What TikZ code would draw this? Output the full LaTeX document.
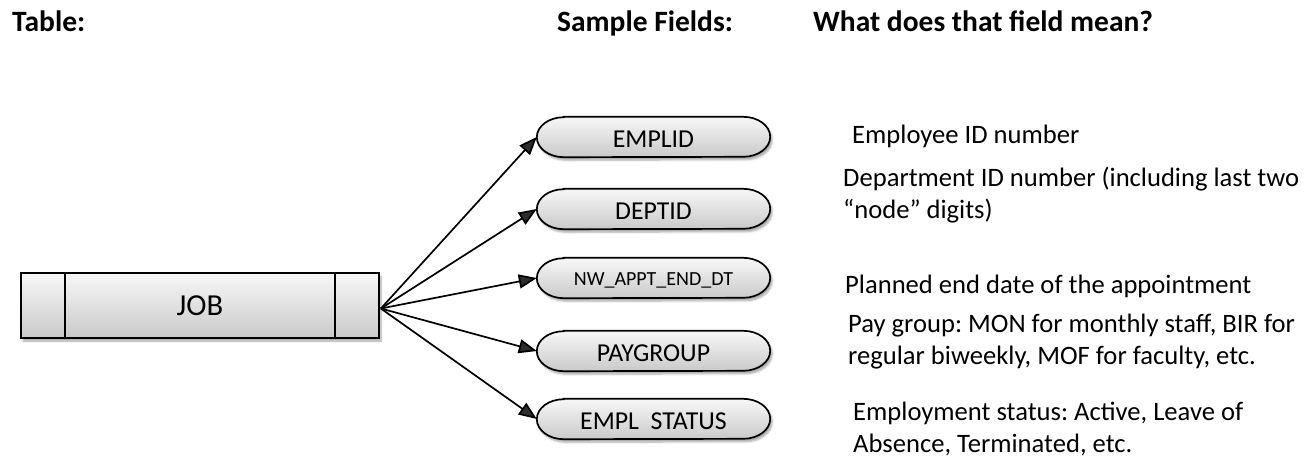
\documentclass[tikz,border=0pt]{standalone}
\usepackage{fontspec}
\setmainfont{Carlito}
\frenchspacing
\usetikzlibrary{arrows.meta,calc,shadows.blur}
\pgfdeclarelayer{bg}
\pgfsetlayers{bg,main}
\newcommand\stadiumpath[1]{%
  \path[shapefill] ($(#1.north west)+(27pt,0)$) -- ($(#1.north east)+(-27pt,0)$)
    arc[start angle=90,end angle=-90,x radius=27pt,y radius=20pt]
    -- ($(#1.south west)+(27pt,0)$)
    arc[start angle=270,end angle=90,x radius=27pt,y radius=20pt] -- cycle;}
\begin{document}
\frenchspacing
\begin{tikzpicture}[x=1pt,y=-1pt,
  hdr/.style={anchor=base west,inner sep=0,font=\fontsize{29.5}{32}\selectfont\bfseries},
  desc/.style={anchor=base west,inner sep=0,align=left,font=\fontsize{26.6}{32}\selectfont\frenchspacing},
  fieldnode/.style={minimum width=233pt,minimum height=40pt,inner sep=0,font=\fontsize{25.8}{30}\selectfont},
  fieldtext/.style={anchor=center,inner sep=0,font=\fontsize{25.8}{30}\selectfont},
  shapefill/.style={draw=black,line width=1.7pt,top color=gray!6,bottom color=gray!42,
    blur shadow={shadow xshift=2pt,shadow yshift=-3pt,shadow opacity=35,shadow blur steps=6}},
  link/.style={line width=1.7pt,-{Triangle[length=18pt,width=14pt]}}]
\useasboundingbox (0,0) rectangle (1314,459);

% headers
\node[hdr] (h1) at (12,31) {Table:};
\node[hdr] (h2) at (557,31) {Sample Fields:};
\node[hdr] (h3) at (813,31) {What does that field mean?};

% table
\node[shapefill,minimum width=358pt,minimum height=65pt,inner sep=0,font=\fontsize{30.5}{34}\selectfont] (job) at (200,305.5) {JOB};
\draw[line width=1.7pt] ($(job.north west)+(45pt,0)$) -- ($(job.south west)+(45pt,0)$);
\draw[line width=1.7pt] ($(job.north east)+(-45pt,0)$) -- ($(job.south east)+(-45pt,0)$);

% fields (outline nodes) and their texts
\node[fieldnode] (f1) at (653.5,137) {};
\node[fieldnode] (f2) at (653.5,209) {};
\node[fieldnode] (f3) at (653.5,278) {};
\node[fieldnode] (f4) at (653.5,351) {};
\node[fieldnode] (f5) at (653.5,419) {};
\node[fieldtext] (t1) at ($(f1.center)+(0,2.5)$) {EMPLID};
\node[fieldtext] (t2) at ($(f2.center)+(0,2.5)$) {DEPTID};
\node[fieldtext,font=\fontsize{20}{24}\selectfont] (t3) at ($(f3.center)+(0,2)$) {NW\_APPT\_END\_DT};
\node[fieldtext] (t4) at ($(f4.center)+(0,2.5)$) {PAYGROUP};
\node[fieldtext] (t5) at ($(f5.center)+(0,2.5)$) {EMPL\ \ STATUS};
\begin{pgfonlayer}{bg}
\stadiumpath{f1}
\stadiumpath{f2}
\stadiumpath{f3}
\stadiumpath{f4}
\stadiumpath{f5}
\end{pgfonlayer}

% connectors
\coordinate (fan) at ($(job.east)+(1,3)$);
\foreach \f in {f1,f2,f3,f4,f5}
  \draw[link] (fan) -- (\f.west);

% descriptions (base anchor = baseline of last line)
\node[desc] (d1) at (852,143) {Employee ID number};
\node[desc] (d2) at (843,218) {Department ID number (including last two\\“node” digits)};
\node[desc] (d3) at (845,293) {Planned end date of the appointment};
\node[desc] (d4) at (848,364) {Pay group: MON for monthly staff, BIR for\\regular biweekly, MOF for faculty, etc.};
\node[desc] (d5) at (853,452) {Employment status: Active, Leave of\\Absence, Terminated, etc.};
\end{tikzpicture}
\end{document}
